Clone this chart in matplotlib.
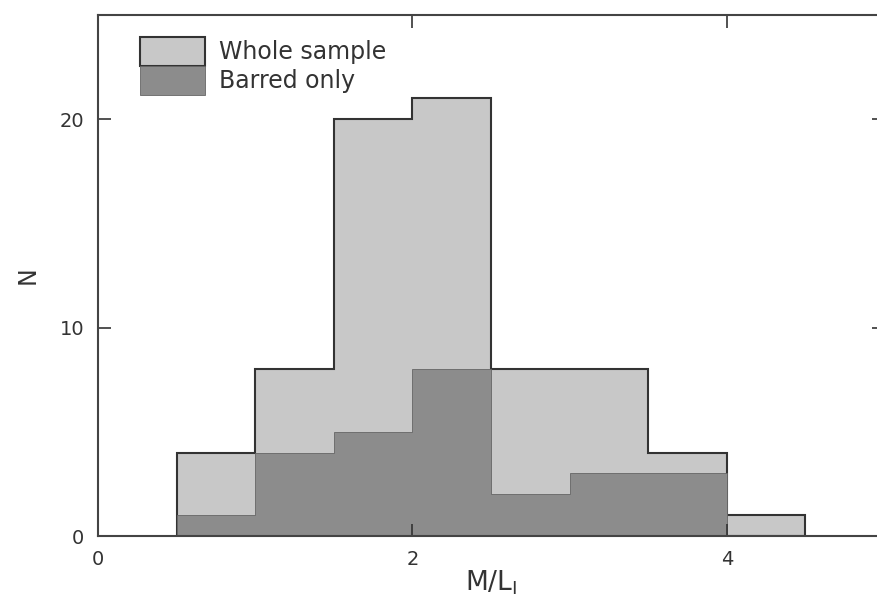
import matplotlib.pyplot as plt
import numpy as np

bin_edges = [0.5, 1.0, 1.5, 2.0, 2.5, 3.0, 3.5, 4.0, 4.5]
whole = [4, 8, 20, 21, 8, 8, 4, 1]
barred = [1, 4, 5, 8, 2, 3, 3, 0]

plt.rcParams['font.family'] = ['DejaVu Sans']

fig = plt.figure(figsize=(8.78, 6.15), dpi=100)
ax = fig.add_axes([98 / 878, 79 / 615, (884 - 98) / 878, (536 - 15) / 615])

centers = np.array(bin_edges[:-1]) + 0.25
ax.hist(centers, bins=bin_edges, weights=whole, color='#c8c8c8',
        edgecolor='#333333', linewidth=1.5, histtype='stepfilled', label='Whole sample')
ax.hist(centers, bins=bin_edges, weights=barred, color='#8c8c8c',
        edgecolor='#666666', linewidth=0.6, histtype='stepfilled', label='Barred only')

ax.set_xlim(0, 5)
ax.set_ylim(0, 25)
ax.set_xticks([0, 2, 4])
ax.set_yticks([0, 10, 20])
ax.tick_params(direction='in', length=9, width=1.2, top=True, right=True,
               labelsize=14, labelcolor='#333333', colors='#333333', pad=10)
for s in ax.spines.values():
    s.set_color('#444444')
    s.set_linewidth(1.5)

ax.set_xlabel('M/L$_\\mathregular{I}$', fontsize=19, color='#333333', labelpad=0)
ax.set_ylabel('N', fontsize=17, color='#333333', labelpad=14)

ax.legend(loc='upper left', bbox_to_anchor=(42 / 786, 1 - 22 / 521), frameon=False,
          fontsize=17, handlelength=2.75, handleheight=1.5, labelspacing=0.0,
          borderpad=0, borderaxespad=0, handletextpad=0.6, labelcolor='#333333')

plt.savefig('out.png', dpi=100)
